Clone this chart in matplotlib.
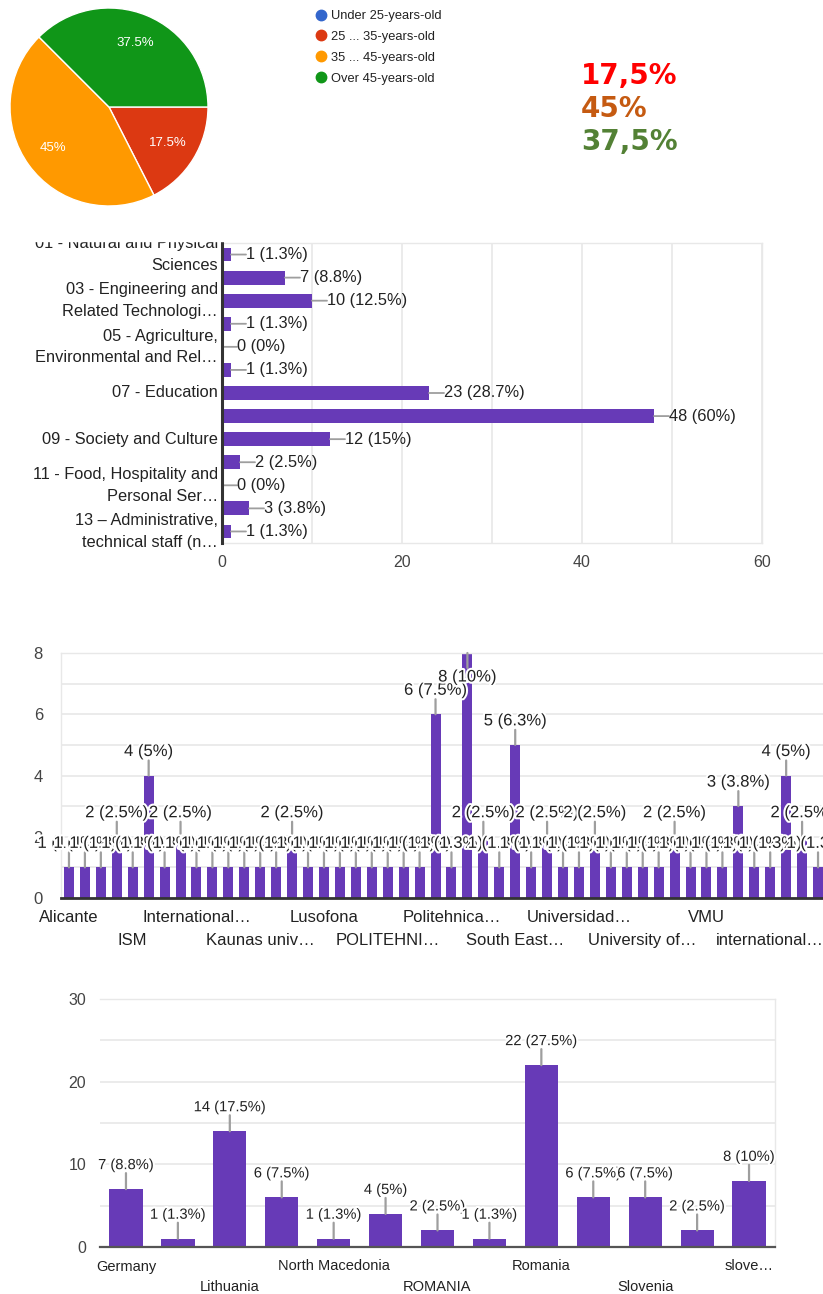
from decimal import Decimal, ROUND_HALF_UP

import numpy as np
import matplotlib
matplotlib.use('Agg')
import matplotlib.pyplot as plt
import matplotlib.patheffects as pe
from matplotlib.lines import Line2D
from matplotlib.patches import Rectangle

plt.rcParams['font.family'] = ['Liberation Sans', 'DejaVu Sans']

W, H = 823, 1294
PURPLE = '#673ab7'
TEXT = '#222222'
TICK = '#444444'
GRID = '#e8e8e8'
STEM = '#9e9e9e'
BASE = '#333333'
PT = 0.72  # points per pixel at dpi 100

RESPONDENTS = 80

# age of respondents
age_groups = ['Under 25-years-old', '25 ... 35-years-old', '35 ... 45-years-old', 'Over 45-years-old']
age_share = [0, 17.5, 45, 37.5]
age_colors = ['#3366cc', '#dc3912', '#ff9900', '#109618']
summary_text = ['17,5%', '45%', '37,5%']
summary_colors = ['#ff0000', '#c55a11', '#538135']

# field of study / work
field_counts = [1, 7, 10, 1, 0, 1, 23, 48, 12, 2, 0, 3, 1]
field_pcts = ['1.3', '8.8', '12.5', '1.3', '0', '1.3', '28.7', '60', '15', '2.5', '0', '3.8', '1.3']
field_labels = ['01 - Natural and Physical\nSciences',
                '03 - Engineering and\nRelated Technologi\u2026',
                '05 - Agriculture,\nEnvironmental and Rel\u2026',
                '07 - Education',
                '09 - Society and Culture',
                '11 - Food, Hospitality and\nPersonal Ser\u2026',
                '13 \u2013 Administrative,\ntechnical staff (n\u2026']

# institutions
inst_counts = [1, 1, 1, 2, 1, 4, 1, 2, 1, 1, 1, 1, 1, 1, 2, 1,
               1, 1, 1, 1, 1, 1, 1, 6, 1, 8, 2, 1, 5, 1, 2, 1,
               1, 2, 1, 1, 1, 1, 2, 1, 1, 1, 3, 1, 1, 4, 2, 1]
inst_labels = ['Alicante', 'ISM', 'International\u2026', 'Kaunas univ\u2026',
               'Lusofona', 'POLITEHNI\u2026', 'Politehnica\u2026', 'South East\u2026',
               'Universidad\u2026', 'University of\u2026', 'VMU', 'international\u2026']

# countries
country_counts = [7, 1, 14, 6, 1, 4, 2, 1, 22, 6, 6, 2, 8]
country_labels = ['Germany', 'Lithuania', 'North Macedonia', 'ROMANIA',
                  'Romania', 'Slovenia', 'slove\u2026']


def pct_text(v, total=RESPONDENTS):
    p = (Decimal(v) * 100 / Decimal(total)).quantize(Decimal('0.1'), rounding=ROUND_HALF_UP)
    return f'{v} ({p.normalize():f}%)'


fig = plt.figure(figsize=(W / 100, H / 100), dpi=100)


def px_axes(x0, y0, x1, y1):
    return fig.add_axes([x0 / W, 1 - y1 / H, (x1 - x0) / W, (y1 - y0) / H])


def light_frame(ax, keep=('top', 'right', 'left')):
    for name, sp in ax.spines.items():
        if name in keep:
            sp.set_color(GRID)
            sp.set_linewidth(1)
        else:
            sp.set_visible(False)


def column_labels(ax, values, fontsize, stem_px, text_px, ymax):
    halo = [pe.withStroke(linewidth=3, foreground='white')]
    for i, v in enumerate(values):
        sign = -1 if v >= ymax else 1
        ax.annotate('', xy=(i, v), xytext=(0, sign * stem_px * PT), textcoords='offset points',
                    arrowprops=dict(arrowstyle='-', color=STEM, lw=1.6, shrinkA=0, shrinkB=0),
                    zorder=3)
        ax.annotate(pct_text(v), xy=(i, v), xytext=(0, sign * text_px * PT),
                    textcoords='offset points', ha='center', va='center',
                    fontsize=fontsize, color=TEXT, path_effects=halo, zorder=4)


# ---- pie: age
ax1 = px_axes(10, 8, 208, 206)
ax1.pie(age_share, colors=age_colors, startangle=0, counterclock=False,
        autopct=lambda p: f'{p:g}%' if p > 0 else '', pctdistance=0.7,
        wedgeprops=dict(edgecolor='white', linewidth=1),
        textprops=dict(color='white', fontsize=9.5))
ax1.set_xlim(-1, 1)
ax1.set_ylim(-1, 1)
ax1.set_aspect('equal')

handles = [Line2D([], [], marker='o', ls='', ms=7.5, mfc=c, mec=c) for c in age_colors]
fig.legend(handles, age_groups, loc='upper left', bbox_to_anchor=(314 / W, 1 - 10 / H),
           frameon=False, fontsize=9.3, handletextpad=0.2, labelspacing=0.68,
           handlelength=1.1, borderaxespad=0, borderpad=0, labelcolor=TEXT)

for k, (txt, col) in enumerate(zip(summary_text, summary_colors)):
    fig.text(581 / W, 1 - (75.5 + 33.5 * k) / H, txt, color=col, fontsize=20,
             fontweight='bold', family='DejaVu Sans', va='center', ha='left')

# ---- horizontal bars: fields
ax2 = px_axes(222, 243, 762, 543)
rows = np.arange(len(field_counts))
ax2.barh(rows, field_counts, height=0.6, color=PURPLE, zorder=2)
ax2.set_xlim(0, 60)
ax2.set_ylim(len(rows) - 0.5, -0.5)
for i, (v, p) in enumerate(zip(field_counts, field_pcts)):
    ax2.annotate('', xy=(v, i), xytext=(15 * PT, 0), textcoords='offset points',
                 arrowprops=dict(arrowstyle='-', color=STEM, lw=1.3, shrinkA=0, shrinkB=0))
    ax2.annotate(f'{v} ({p}%)', xy=(v, i), xytext=(15 * PT, 0), textcoords='offset points',
                 ha='left', va='center', fontsize=11.8, color=TEXT)
ax2.set_yticks(rows[::2], field_labels, fontsize=11.8, color=TEXT, linespacing=1.55)
for lbl in ax2.get_yticklabels():
    lbl.set_va('center')
ax2.set_xticks([0, 20, 40, 60])
ax2.set_xticks([10, 30, 50], minor=True)
ax2.tick_params(axis='y', length=0, pad=3)
ax2.tick_params(axis='x', which='both', length=0, pad=9, labelsize=11.5, labelcolor=TICK)
ax2.set_axisbelow(True)
ax2.grid(axis='x', which='both', color=GRID, lw=1.2)
light_frame(ax2, keep=('top', 'right', 'bottom'))
ax2.spines['left'].set_visible(True)
ax2.spines['left'].set_color(BASE)
ax2.spines['left'].set_linewidth(2.2)
ax2.spines['left'].set_zorder(3)

# hide the part of the chart above its frame
fig.add_artist(Rectangle((0, 1 - 241 / H), 0.6, 33 / H, transform=fig.transFigure,
                         color='white', zorder=10))

# ---- columns: institutions
ax3 = px_axes(61, 653, 826, 898)
cols = np.arange(len(inst_counts))
ax3.bar(cols, inst_counts, width=0.63, color=PURPLE, zorder=2)
ax3.set_xlim(-0.5, len(cols) - 0.5)
ax3.set_ylim(0, 8)
column_labels(ax3, inst_counts, 12, 15, 24, 8)
ax3.set_yticks([0, 2, 4, 6, 8])
ax3.set_yticks([1, 3, 5, 7], minor=True)
ax3.set_xticks(cols[::4], [('\n' if k % 2 else '') + s for k, s in enumerate(inst_labels)],
               fontsize=12, color=TEXT, linespacing=1.6)
ax3.tick_params(axis='x', length=0, pad=9)
ax3.tick_params(axis='y', which='both', length=0, pad=13, labelsize=12, labelcolor=TICK)
ax3.set_axisbelow(True)
ax3.grid(axis='y', which='both', color=GRID, lw=1.2)
light_frame(ax3, keep=('top', 'left'))
ax3.spines['bottom'].set_visible(True)
ax3.spines['bottom'].set_color(BASE)
ax3.spines['bottom'].set_linewidth(2)

# ---- columns: countries
ax4 = px_axes(100, 999, 775, 1247)
cols4 = np.arange(len(country_counts))
ax4.bar(cols4, country_counts, width=0.64, color=PURPLE, zorder=2)
ax4.set_xlim(-0.5, len(cols4) - 0.5)
ax4.set_ylim(0, 30)
column_labels(ax4, country_counts, 10.6, 16, 24, 30)
ax4.set_yticks([0, 10, 20, 30])
ax4.set_yticks([5, 15, 25], minor=True)
ax4.set_xticks(cols4[::2], [('\n' if k % 2 else '') + s for k, s in enumerate(country_labels)],
               fontsize=10.5, color=TEXT, linespacing=1.6)
ax4.tick_params(axis='x', length=0, pad=9)
ax4.tick_params(axis='y', which='both', length=0, pad=10, labelsize=11.5, labelcolor=TICK)
ax4.set_axisbelow(True)
ax4.grid(axis='y', which='both', color=GRID, lw=1.2)
light_frame(ax4, keep=('top', 'right'))
ax4.spines['bottom'].set_visible(True)
ax4.spines['bottom'].set_color('#555555')
ax4.spines['bottom'].set_linewidth(1.6)

fig.savefig('out.png', dpi=100)
